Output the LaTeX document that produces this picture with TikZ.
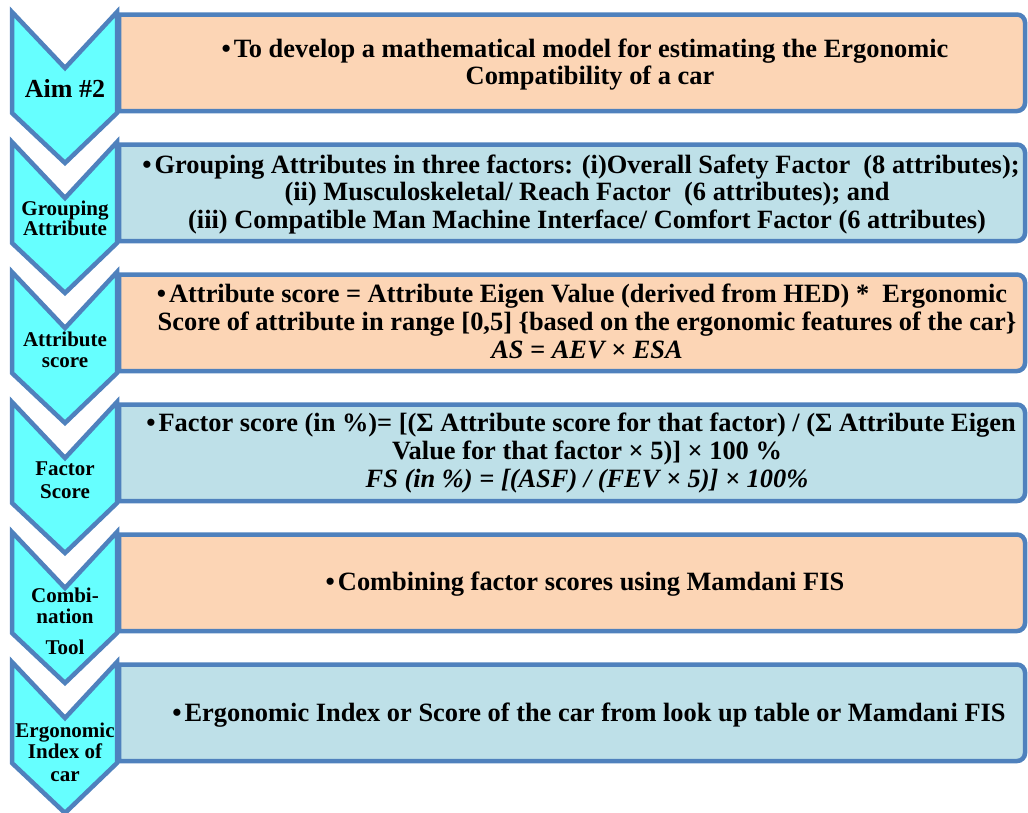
\documentclass[tikz,border=0pt]{standalone}
\usepackage{fontspec}
\setmainfont{Liberation Serif}

\definecolor{edgeblue}{RGB}{79,129,189}
\definecolor{chevfill}{RGB}{102,255,255}
\definecolor{peach}{RGB}{252,213,181}
\definecolor{paleblue}{RGB}{190,224,232}

\tikzset{
  chev/.style={draw=edgeblue, fill=chevfill, line width=4.5pt, line join=miter},
  panel/.style={draw=edgeblue, line width=4.5pt},
  body/.style={anchor=base, inner sep=0pt, font=\fontsize{26.4}{28}\selectfont\bfseries},
  bodyit/.style={anchor=base, inner sep=0pt, font=\fontsize{26.4}{28}\selectfont\bfseries\itshape},
  tag/.style={anchor=base, inner sep=0pt, font=\fontsize{21}{22}\selectfont\bfseries},
  bigtag/.style={anchor=base, inner sep=0pt, font=\fontsize{26}{28}\selectfont\bfseries},
}

\begin{document}
\begin{tikzpicture}[x=1pt,y=-1pt]
\useasboundingbox (0,0) rectangle (1028,812);

% chevrons on the left, panels on the right
\foreach \t/\c in {12/peach,142/paleblue,272/peach,402/paleblue,532/peach,662/paleblue}{
  \draw[chev] (12,\t) -- (65,\t+56) -- (117,\t) -- (117,\t+101) -- (65,\t+151) -- (12,\t+101) -- cycle;
  \draw[panel, fill=\c] (119,\t+2.5) -- (1017,\t+2.5)
     arc[start angle=-90, end angle=0, radius=8] -- (1025,\t+91)
     arc[start angle=0, end angle=90, radius=8] -- (119,\t+99) -- cycle;
}

% step labels
\node[bigtag] (aim) at (65,97) {Aim \#2};
\node[tag] (grpA) at (65,215) {Grouping};
\node[tag] (grpB) at (65,235) {Attribute};
\node[tag] (attA) at (65,346) {Attribute};
\node[tag] (attB) at (65,367) {score};
\node[tag] (facA) at (65,475) {Factor};
\node[tag] (facB) at (65,498) {Score};
\node[tag] (cmbA) at (65,602) {Combi-};
\node[tag] (cmbB) at (65,623) {nation};
\node[tag] (cmbC) at (65,654) {Tool};
\node[tag] (ergA) at (65,737) {Ergonomic};
\node[tag] (ergB) at (65,758) {Index of};
\node[tag] (ergC) at (65,781) {car};

% panel texts
\node[body] (p1a) at (585,57) {\textbullet\hspace{3pt}To develop a mathematical model for estimating the Ergonomic};
\node[body] (p1b) at (590,84) {Compatibility of a car};

\node[body] (p2a) at (581,173) {\textbullet\hspace{3pt}Grouping Attributes in three factors: (i)Overall Safety Factor\ \ (8 attributes);};
\node[body] (p2b) at (587,200) {(ii) Musculoskeletal/ Reach Factor\ \ (6 attributes); and};
\node[body] (p2c) at (587,228) {(iii) Compatible Man Machine Interface/ Comfort Factor (6 attributes)};

\node[body] (p3a) at (582,302) {\textbullet\hspace{3pt}Attribute score = Attribute Eigen Value (derived from HED) *\ \ Ergonomic};
\node[body] (p3b) at (587,330) {Score of attribute in range [0,5] \{based on the ergonomic features of the car\}};
\node[bodyit] (p3c) at (587,358) {AS = AEV × ESA};

\node[body] (p4a) at (581,431) {\textbullet\hspace{3pt}Factor score (in \%)= [(Σ Attribute score for that factor) / (Σ Attribute Eigen};
\node[body] (p4b) at (587,459) {Value for that factor × 5)] × 100 \%};
\node[bodyit] (p4c) at (587,487) {FS (in \%) = [(ASF) / (FEV × 5)] × 100\%};

\node[body] (p5) at (585,590) {\textbullet\hspace{3pt}Combining factor scores using Mamdani FIS};

\node[body] (p6) at (589,721) {\textbullet\hspace{3pt}Ergonomic Index or Score of the car from look up table or Mamdani FIS};
\end{tikzpicture}
\end{document}
